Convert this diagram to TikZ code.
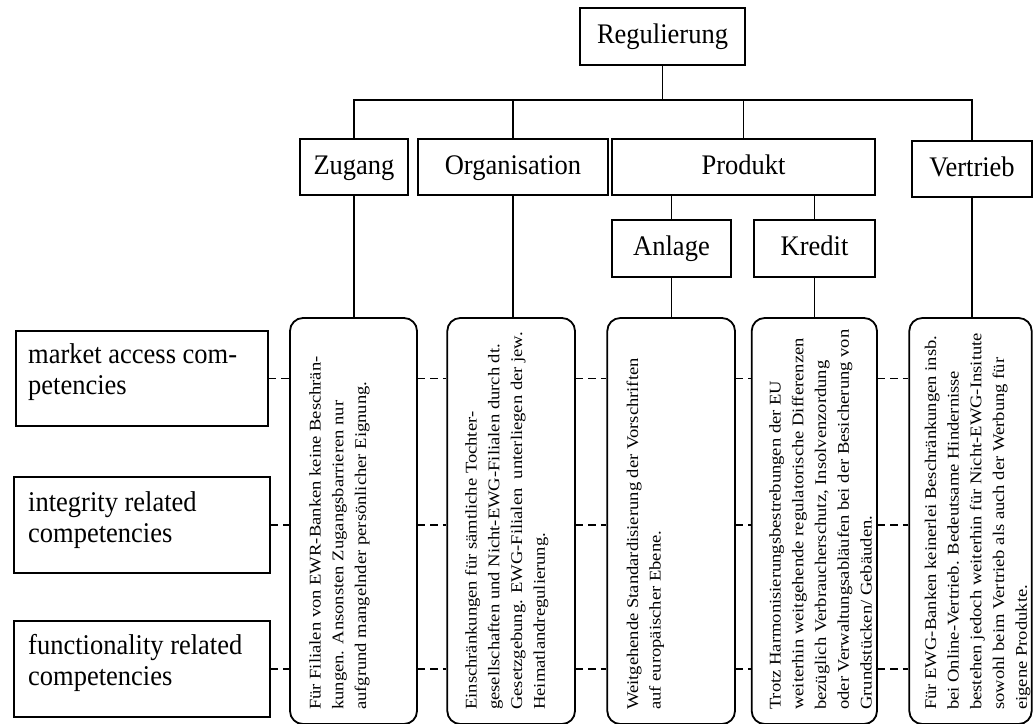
\documentclass[tikz,border=0pt]{standalone}
\usepackage{fontspec}
\setmainfont{Liberation Serif}
\usepackage{graphicx}
\newcommand{\myys}[1]{\scalebox{1}[1.07]{#1}}
\newcommand{\myvt}[1]{\scalebox{1.14}[1]{\begin{tabular}[t]{@{}l@{}}#1\end{tabular}}}
\newcommand{\mylt}[1]{\scalebox{1}[1.08]{\begin{tabular}[t]{@{}l@{}}#1\end{tabular}}}
\begin{document}
\begin{tikzpicture}[x=1pt,y=-1pt,
  box/.style={draw, line width=1.3pt, inner sep=0pt},
  lbl/.style={box, font=\fontsize{26.5}{28}\selectfont, text height=19pt, text depth=5pt},
  rbox/.style={draw, line width=1.8pt, rounded corners=13pt, inner sep=0pt, fill=white},
  conn/.style={line width=1.3pt},
  dsh/.style={line width=1.6pt, dash pattern=on 7.5pt off 5pt},
  vtext/.style={rotate=90, anchor=base west, inner sep=0pt, font=\fontsize{16.3}{22.7}\selectfont},
  ltext/.style={anchor=base west, inner sep=0pt, font=\fontsize{26.5}{28.7}\selectfont}
]
\path[use as bounding box, clip] (0,0) rectangle (1033,723);

% top hierarchy
\node[lbl, minimum width=165pt, minimum height=57pt] (reg) at (662.5,36.5) {\myys{Regulierung}};
\node[lbl, minimum width=108pt, minimum height=56pt] (zug) at (354,167) {\myys{Zugang}};
\node[lbl, minimum width=190pt, minimum height=56pt] (org) at (513,167) {\myys{Organisation}};
\node[lbl, minimum width=263pt, minimum height=56pt] (prod) at (743.5,167) {\myys{Produkt}};
\node[lbl, minimum width=120pt, minimum height=56pt] (vert) at (972,169) {\myys{Vertrieb}};
\node[lbl, minimum width=119pt, minimum height=57pt] (anl) at (671.5,248.5) {\myys{Anlage}};
\node[lbl, minimum width=121pt, minimum height=57pt] (kred) at (814.5,248.5) {\myys{Kredit}};

% rounded description boxes
\node[rbox, minimum width=127pt, minimum height=406pt] (rz) at (353.5,521) {};
\node[rbox, minimum width=127.7pt, minimum height=406pt] (ro) at (511.15,521) {};
\node[rbox, minimum width=127.7pt, minimum height=406pt] (ra) at (671.15,521) {};
\node[rbox, minimum width=125.3pt, minimum height=406pt] (rk) at (814.35,521) {};
\node[rbox, minimum width=122.4pt, minimum height=406pt] (rv) at (970.5,521) {};

\node[vtext] (tz) at (320.7,710) {\myvt{Für Filialen von EWR-Banken keine Beschrän-\\kungen. Ansonsten Zugangsbarrieren nur\\aufgrund mangelnder persönlicher Eignung.}};
\node[vtext] (to) at (476.7,710) {\myvt{Einschränkungen für sämtliche Tochter-\\gesellschaften und Nicht-EWG-Filialen durch dt.\\Gesetzgebung. EWG-Filialen\ \ unterliegen der jew.\\Heimatlandregulierung.}};
\node[vtext] (ta) at (638,710) {\myvt{Weitgehende Standardisierung der Vorschriften\\auf europäischer Ebene.}};
\node[vtext] (tk) at (780.7,710) {\myvt{Trotz Harmonisierungsbestrebungen der EU\\weiterhin weitgehende regulatorische Differenzen\\bezüglich Verbraucherschutz, Insolvenzordung\\oder Verwaltungsabläufen bei der Besicherung von\\Grundstücken/ Gebäuden.}};
\node[vtext] (tv) at (936,710) {\myvt{Für EWG-Banken keinerlei Beschränkungen insb.\\bei Online-Vertrieb. Bedeutsame Hindernisse\\bestehen jedoch weiterhin für Nicht-EWG-Insitute\\sowohl beim Vertrieb als auch der Werbung für\\eigene Produkte.}};

% competency boxes
\node[box, minimum width=252pt, minimum height=95pt] (mac) at (142,378.5) {};
\node[ltext] (mact) at (28,363.5) {\mylt{market access com-\\petencies}};
\node[box, minimum width=256pt, minimum height=96pt] (irc) at (142,525) {};
\node[ltext] (irct) at (28,511) {\mylt{integrity related\\competencies}};
\node[box, minimum width=256pt, minimum height=96pt] (frc) at (142,669) {};
\node[ltext] (frct) at (28,654) {\mylt{functionality related\\competencies}};

% connectors
\coordinate (bus) at (664,100);
\draw[conn] (reg.south) -- (reg.south |- bus);
\draw[conn] (zug.north) -- (zug.north |- bus) -- (vert.north |- bus) -- (vert.north);
\draw[conn] (org.north) -- (org.north |- bus);
\draw[conn] (prod.north) -- (prod.north |- bus);
\draw[conn] (anl.north) -- (anl.north |- prod.south);
\draw[conn] (kred.north) -- (kred.north |- prod.south);
\draw[conn] (zug.south) -- (zug.south |- rz.north);
\draw[conn] (org.south) -- (org.south |- ro.north);
\draw[conn] (anl.south) -- (anl.south |- ra.north);
\draw[conn] (kred.south) -- (kred.south |- rk.north);
\draw[conn] (vert.south) -- (vert.south |- rv.north);

% dashed links
\foreach \r in {mac,irc,frc}{
  \draw[dsh] (\r.east) -- (rz.west |- \r.east);
  \draw[dsh] (rz.east |- \r.east) -- (ro.west |- \r.east);
  \draw[dsh] (ro.east |- \r.east) -- (ra.west |- \r.east);
  \draw[dsh] (ra.east |- \r.east) -- (rk.west |- \r.east);
  \draw[dsh] (rk.east |- \r.east) -- (rv.west |- \r.east);
}
\end{tikzpicture}
\end{document}
